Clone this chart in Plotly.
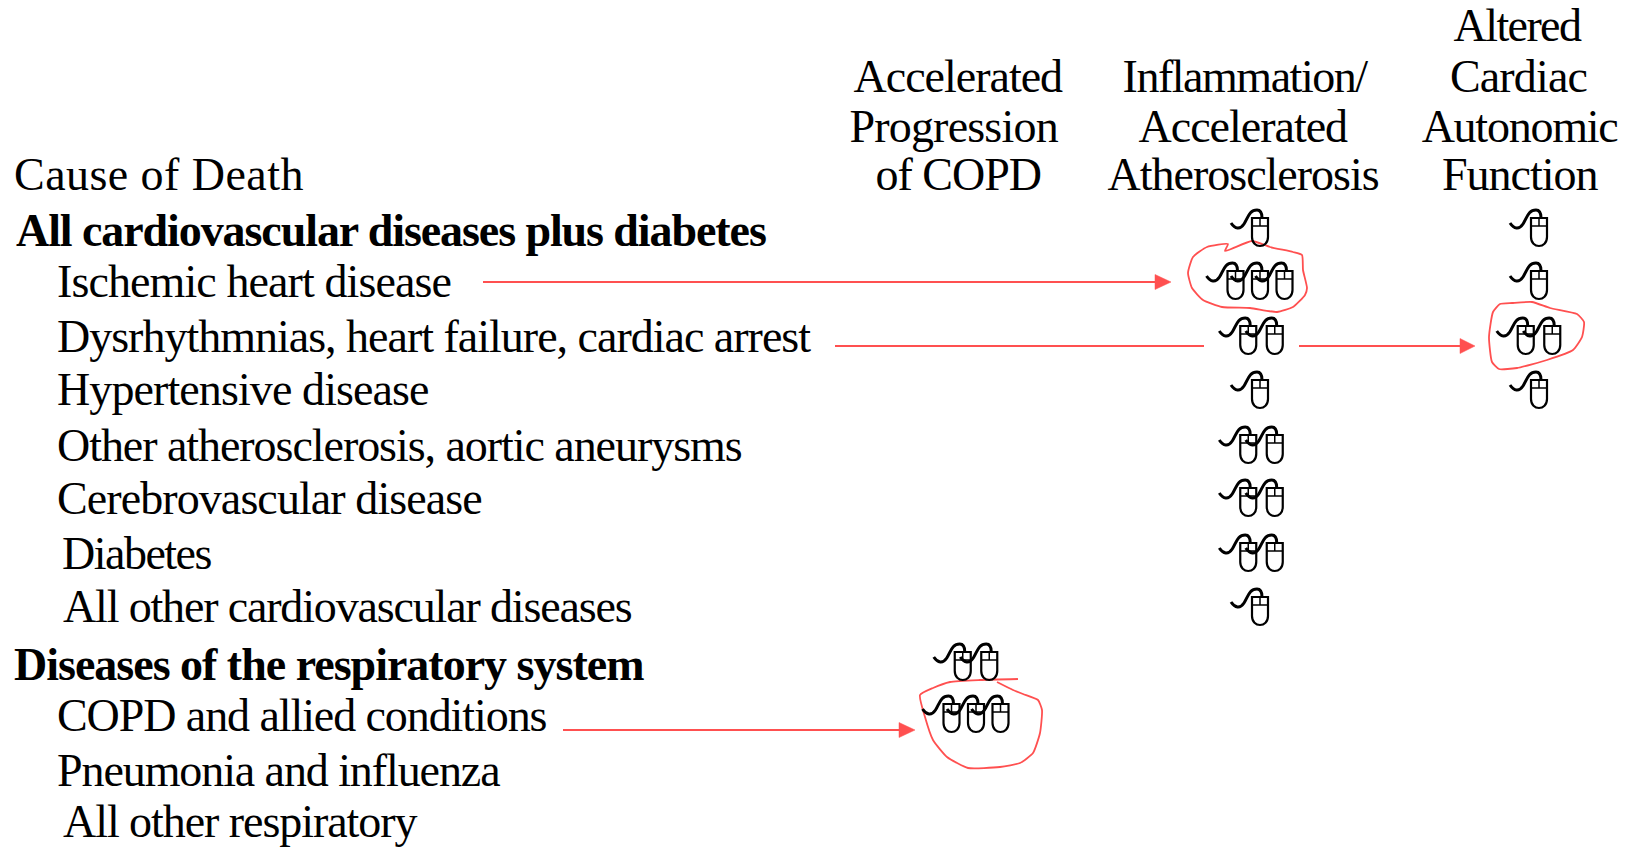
import json
import plotly.graph_objects as go

# 死因の行ラベル
causes = ['All cardiovascular diseases plus diabetes', 'Ischemic heart disease',
          'Dysrhythmnias, heart failure, cardiac arrest', 'Hypertensive disease',
          'Other atherosclerosis, aortic aneurysms', 'Cerebrovascular disease', 'Diabetes',
          'All other cardiovascular diseases', 'Diseases of the respiratory system',
          'COPD and allied conditions', 'Pneumonia and influenza', 'All other respiratory']
bold_rows = ['All cardiovascular diseases plus diabetes', 'Diseases of the respiratory system']

# mechanism ごとのマウス数
copd_mice = [0, 0, 0, 0, 0, 0, 0, 0, 2, 3, 0, 0]
inflammation_mice = [1, 3, 2, 1, 2, 2, 2, 1, 0, 0, 0, 0]
autonomic_mice = [1, 1, 2, 1, 0, 0, 0, 0, 0, 0, 0, 0]

header_cause = 'Cause of Death'
headers = [['Accelerated', 'Progression', 'of COPD'],
           ['Inflammation/', 'Accelerated', 'Atherosclerosis'],
           ['Altered', 'Cardiac', 'Autonomic', 'Function']]

# レイアウト用（ピクセル座標）
W, H = 1634, 847
FONT = 'Liberation Serif'
FS = 46
RED = '#FF5050'
row_base = [247, 298, 353, 406, 462, 515, 570, 623, 681, 732, 787, 838]
row_left = [14, 55, 55, 55, 55, 55, 60, 61, 12, 55, 55, 61]
mouse_top = [218, 271, 326, 380, 435, 488, 543, 597, 652, 704, 0, 0]
col_centre = [976, 1260, 1539]
spacing = {1: 0, 2: 26.5, 3: 24.5}
header_x = [[958, 953, 958], [1244, 1243, 1243], [1517, 1518, 1519, 1520]]
header_base = [[93, 143, 191], [93, 143, 191], [42, 93, 143, 191]]
# 字間（px）、既定は -1
letter_gap = {'Cause of Death': 0.45, 'All cardiovascular diseases plus diabetes': -1.08,
              'Ischemic heart disease': -0.9, 'Hypertensive disease': -0.9,
              'Other atherosclerosis, aortic aneurysms': -1.05, 'Cerebrovascular disease': -0.91,
              'Diabetes': -1.5, 'All other cardiovascular diseases': -1.16, 'COPD and allied conditions': -1.08,
              'Pneumonia and influenza': -1.09, 'All other respiratory': -1.05, 'Progression': -0.8,
              'Inflammation/': -1.48, 'Altered': -1.6, 'Cardiac': -0.85, 'Autonomic': -1.25}


def text(fig, x, base, label, anchor='left', bold=False):
    # ベースラインからbottomへ換算
    fig.add_annotation(x=x, y=base, yshift=-FS * 0.235, text='<b>%s</b>' % label if bold else label,
                       xanchor=anchor, yanchor='bottom', showarrow=False, align=anchor,
                       font=dict(family=FONT, size=FS, color='black'))


def mouse_shapes(cx, top):
    # マウス1個：本体＋ボタン線＋コード
    body = 'M%f,%f L%f,%f L%f,%f C%f,%f %f,%f %f,%f C%f,%f %f,%f %f,%f Z' % (
        cx - 8, top, cx + 8, top, cx + 8, top + 19,
        cx + 8, top + 25, cx + 4, top + 28, cx, top + 28,
        cx - 4, top + 28, cx - 8, top + 25, cx - 8, top + 19)
    buttons = 'M%f,%f L%f,%f M%f,%f L%f,%f' % (cx - 8, top + 8, cx + 8, top + 8, cx, top, cx, top + 8)
    cord = 'M%f,%f C%f,%f %f,%f %f,%f C%f,%f %f,%f %f,%f C%f,%f %f,%f %f,%f' % (
        cx - 29, top + 5, cx - 25, top + 11, cx - 20, top + 12, cx - 16, top + 6,
        cx - 12, top + 0, cx - 11, top - 8, cx - 3, top - 8,
        cx + 1, top - 8, cx + 2, top - 4, cx + 2, top)
    return [dict(type='path', path=body, line=dict(color='black', width=2.2)),
            dict(type='path', path=buttons, line=dict(color='black', width=1.5)),
            dict(type='path', path=cord, line=dict(color='black', width=3))]


def arrow_head(base_x, tip_x, y):
    return dict(type='path', path='M%f,%f L%f,%f L%f,%f Z' % (base_x, y - 7.5, tip_x, y, base_x, y + 7.5),
                fillcolor=RED, line=dict(color=RED, width=0.5))


fig = go.Figure()

# 手書きの赤い囲み
outline_a = [(1252, 241), (1225, 251), (1228, 244), (1207, 247), (1193, 257), (1188, 273), (1192, 288), (1203, 300),
             (1222, 307), (1250, 308), (1277, 312), (1293, 307), (1305, 295), (1307, 288), (1303, 270), (1302, 255),
             (1293, 252), (1270, 247), (1252, 241)]
outline_b = [(1512, 303), (1532, 302), (1550, 308), (1577, 314), (1584, 322), (1582, 337), (1573, 350), (1547, 360),
             (1517, 368), (1499, 369), (1492, 362), (1489, 337), (1493, 312), (1500, 304), (1512, 303)]
outline_c = [(1018, 679), (980, 680), (950, 682), (933, 688), (920, 695), (925, 717), (933, 740), (947, 757),
             (968, 768), (1000, 767), (1020, 763), (1033, 753), (1040, 733), (1042, 710), (1038, 700), (1023, 694),
             (1013, 690), (997, 682)]
for outline in [outline_a, outline_b, outline_c]:
    fig.add_trace(go.Scatter(x=[p[0] for p in outline], y=[p[1] for p in outline], mode='lines',
                             line=dict(color=RED, width=1.8, shape='spline', smoothing=0.5),
                             showlegend=False, hoverinfo='skip'))

# 赤い矢印
arrow_lines = [(483, 1157, 282), (835, 1204, 346), (1299, 1462, 346), (563, 900, 730)]
for x0, x1, y in arrow_lines:
    fig.add_trace(go.Scatter(x=[x0, x1], y=[y, y], mode='lines', line=dict(color=RED, width=1.8),
                             showlegend=False, hoverinfo='skip'))
shapes = [arrow_head(1155, 1171, 282), arrow_head(1460, 1475, 346), arrow_head(899, 915, 730)]

# マウスを列・行ごとに配置
for col, counts in enumerate([copd_mice, inflammation_mice, autonomic_mice]):
    for row, n in enumerate(counts):
        # 中央列の2個組だけ元図で少し右寄り
        nudge = 1.5 if col == 1 and n == 2 else 0
        for i in range(n):
            cx = col_centre[col] - (n - 1) * spacing[n] / 2 + i * spacing[n] + nudge
            shapes += mouse_shapes(cx, mouse_top[row])

# テキスト
text(fig, 12, 191, header_cause)
for label, left, base in zip(causes, row_left, row_base):
    text(fig, left, base, label, bold=label in bold_rows)
for lines, xs, bases in zip(headers, header_x, header_base):
    for label, x, base in zip(lines, xs, bases):
        text(fig, x, base, label, anchor='center')

fig.update_layout(width=W, height=H, margin=dict(l=0, r=0, t=0, b=0), plot_bgcolor='white', paper_bgcolor='white',
                  xaxis=dict(range=[0, W], visible=False, fixedrange=True),
                  yaxis=dict(range=[H, 0], visible=False, fixedrange=True),
                  shapes=shapes, showlegend=False)

# 元図は字詰めが狭いので字間だけ調整
post = """document.body.style.margin='0';document.body.style.overflow='hidden';
var gaps = %s;
document.querySelectorAll('.annotation-text').forEach(function(t){
  var g = gaps[t.textContent];
  t.style.letterSpacing = (g === undefined ? -1 : g) + 'px';
});""" % json.dumps(letter_gap)
fig.write_html('out.html', config=dict(displayModeBar=False), post_script=post)
